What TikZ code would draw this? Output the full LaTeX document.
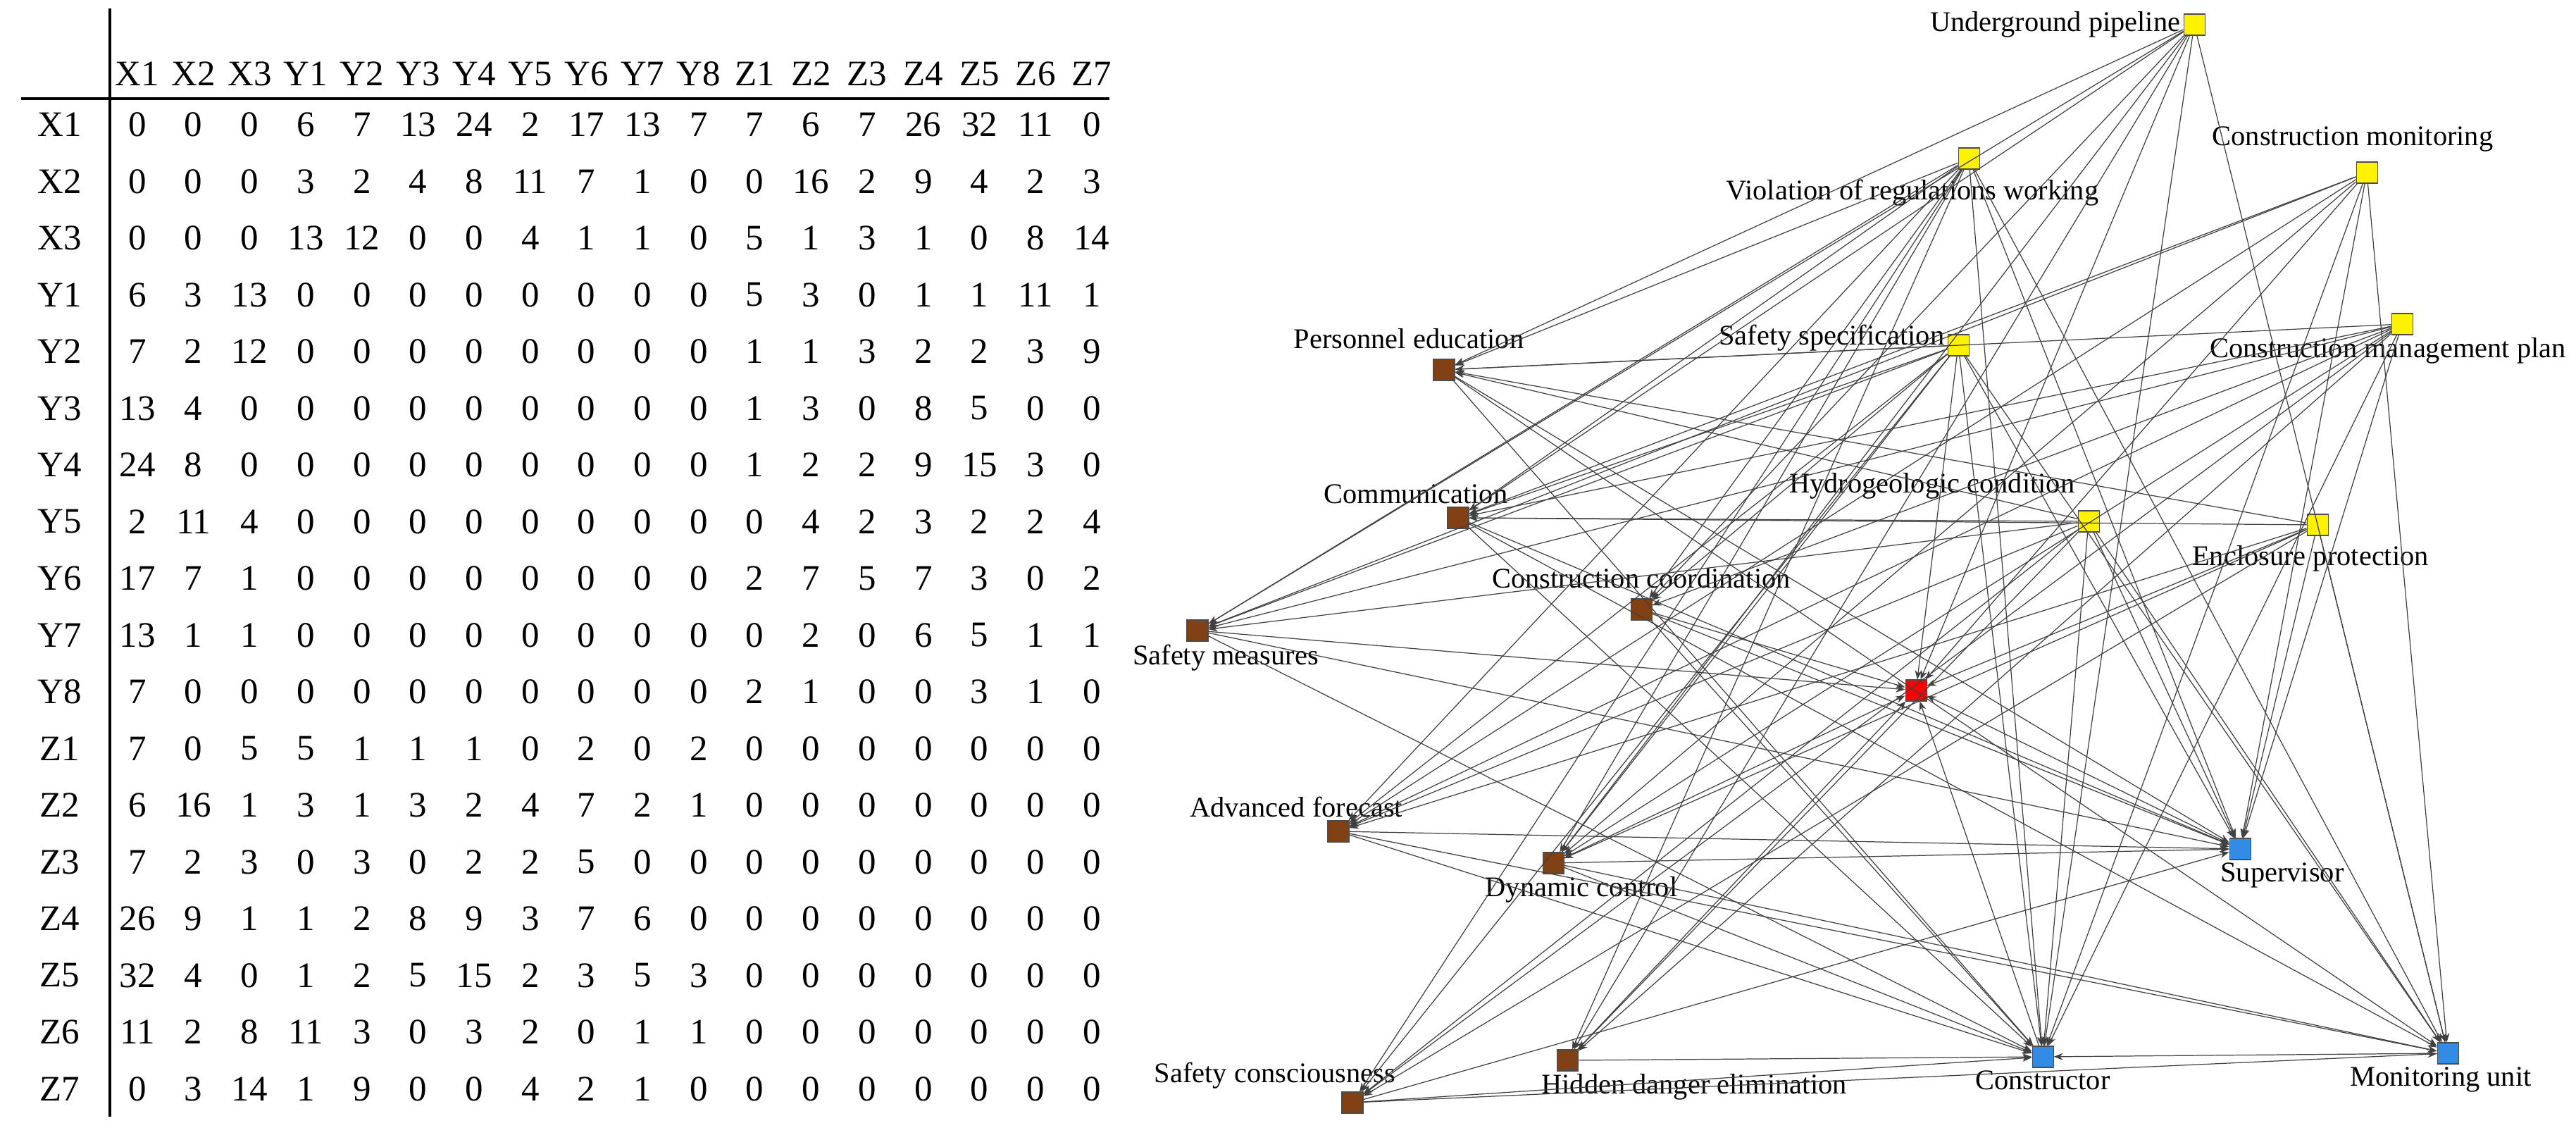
\documentclass[tikz,border=0pt]{standalone}
\usepackage{fontspec}
\setmainfont{Liberation Serif}
\usetikzlibrary{arrows.meta,positioning}
\definecolor{nodebrown}{RGB}{130,65,20}
\definecolor{nodeblue}{RGB}{50,140,230}
\tikzset{
  sq/.style={draw=black!70, minimum size=0.3cm, inner sep=0pt, line width=0.3pt},
  zn/.style={sq, fill=yellow},
  yn/.style={sq, fill=nodebrown},
  xn/.style={sq, fill=nodeblue},
  rn/.style={sq, fill=red},
  edge/.style={black!75, line width=0.35pt, -{Stealth[length=1.3mm,width=1mm]}},
  cell/.style={font=\fontsize{14.5}{17}\selectfont, inner sep=0pt},
  lab/.style={font=\fontsize{11.5}{13}\selectfont, inner sep=1pt}
}
\begin{document}
\begin{tikzpicture}[x=1cm,y=1cm]
\useasboundingbox (0,0) rectangle (36.57,16.28);

% matrix table
\draw[line width=0.9pt] (1.56,16.16) -- (1.56,0.43);
\draw[line width=0.9pt] (0.3,14.88) -- (15.75,14.88);
\foreach \h [count=\c from 0] in {X1,X2,X3,Y1,Y2,Y3,Y4,Y5,Y6,Y7,Y8,Z1,Z2,Z3,Z4,Z5,Z6,Z7}
  \node[cell] (h\c) at (1.95+\c*0.797,15.23) {\h};
\foreach \r/\vals [count=\i from 0] in {
  X1/{0,0,0,6,7,13,24,2,17,13,7,7,6,7,26,32,11,0},
  X2/{0,0,0,3,2,4,8,11,7,1,0,0,16,2,9,4,2,3},
  X3/{0,0,0,13,12,0,0,4,1,1,0,5,1,3,1,0,8,14},
  Y1/{6,3,13,0,0,0,0,0,0,0,0,5,3,0,1,1,11,1},
  Y2/{7,2,12,0,0,0,0,0,0,0,0,1,1,3,2,2,3,9},
  Y3/{13,4,0,0,0,0,0,0,0,0,0,1,3,0,8,5,0,0},
  Y4/{24,8,0,0,0,0,0,0,0,0,0,1,2,2,9,15,3,0},
  Y5/{2,11,4,0,0,0,0,0,0,0,0,0,4,2,3,2,2,4},
  Y6/{17,7,1,0,0,0,0,0,0,0,0,2,7,5,7,3,0,2},
  Y7/{13,1,1,0,0,0,0,0,0,0,0,0,2,0,6,5,1,1},
  Y8/{7,0,0,0,0,0,0,0,0,0,0,2,1,0,0,3,1,0},
  Z1/{7,0,5,5,1,1,1,0,2,0,2,0,0,0,0,0,0,0},
  Z2/{6,16,1,3,1,3,2,4,7,2,1,0,0,0,0,0,0,0},
  Z3/{7,2,3,0,3,0,2,2,5,0,0,0,0,0,0,0,0,0},
  Z4/{26,9,1,1,2,8,9,3,7,6,0,0,0,0,0,0,0,0},
  Z5/{32,4,0,1,2,5,15,2,3,5,3,0,0,0,0,0,0,0},
  Z6/{11,2,8,11,3,0,3,2,0,1,1,0,0,0,0,0,0,0},
  Z7/{0,3,14,1,9,0,0,4,2,1,0,0,0,0,0,0,0,0}} {
  \node[cell] (r\i) at (0.85,14.51-\i*0.805) {\r};
  \foreach \v [count=\c from 0] in \vals
    \node[cell] (c\i-\c) at (1.95+\c*0.797,14.51-\i*0.805) {\v};
}

% network: Z nodes
\node[zn, label={[lab]left:Underground pipeline}] (z1) at (31.15,15.93) {};
\node[zn, label={[lab,xshift=-8mm,yshift=-1mm]below:Violation of regulations working}] (z2) at (27.95,14.03) {};
\node[zn, label={[lab,xshift=-2mm,yshift=1mm]above:Construction monitoring}] (z3) at (33.6,13.83) {};
\node[zn, label={[lab,yshift=1mm]left:Safety specification}] (z4) at (27.8,11.38) {};
\node[zn, label={[lab,xshift=-2mm]below:Construction management plan}] (z5) at (34.1,11.68) {};
\node[zn, label={[lab,yshift=5mm]left:Hydrogeologic condition}] (z6) at (29.65,8.88) {};
\node[zn, label={[lab,xshift=-1mm,yshift=-1mm]below:Enclosure protection}] (z7) at (32.9,8.83) {};
% Y nodes
\node[yn, label={[lab,xshift=-5mm,yshift=1mm]above:Personnel education}] (y1) at (20.5,11.03) {};
\node[yn, label={[lab,xshift=-6mm]above:Communication}] (y2) at (20.7,8.93) {};
\node[yn, label={[lab,yshift=1mm]above:Construction coordination}] (y3) at (23.3,7.63) {};
\node[yn, label={[lab,xshift=4mm]below:Safety measures}] (y4) at (17.0,7.33) {};
\node[yn, label={[lab,xshift=-6mm]above:Advanced forecast}] (y5) at (19.0,4.48) {};
\node[yn, label={[lab,xshift=4mm]below:Dynamic control}] (y6) at (22.05,4.03) {};
\node[yn, label={[lab,xshift=-11mm]above:Safety consciousness}] (y7) at (19.2,0.63) {};
\node[yn, label={[lab,xshift=18mm]below:Hidden danger elimination}] (y8) at (22.25,1.23) {};
% red node
\node[rn] (r0) at (27.2,6.48) {};
% X nodes
\node[xn, label={[lab]below:Constructor}] (x1) at (29.0,1.28) {};
\node[xn, label={[lab,xshift=6mm]below:Supervisor}] (x2) at (31.8,4.23) {};
\node[xn, label={[lab,xshift=-1mm]below:Monitoring unit}] (x3) at (34.75,1.33) {};

% connectors
\foreach \a/\b in {y1/x1,y2/x1,y3/x1,y4/x1,y5/x1,y6/x1,y7/x1,y8/x1,
  z1/x1,z2/x1,z3/x1,z4/x1,z5/x1,z6/x1,
  y1/x2,y2/x2,y3/x2,y4/x2,y5/x2,y6/x2,y7/x2,
  z2/x2,z3/x2,z4/x2,z5/x2,z6/x2,z7/x2,
  y1/x3,y2/x3,y5/x3,y6/x3,y7/x3,
  z1/x3,z2/x3,z3/x3,z4/x3,z6/x3,z7/x3,
  z1/y1,z2/y1,z4/y1,z5/y1,z6/y1,z7/y1,
  z1/y2,z2/y2,z3/y2,z4/y2,z5/y2,z6/y2,z7/y2,
  z1/y3,z2/y3,z4/y3,z5/y3,
  z1/y4,z2/y4,z3/y4,z4/y4,z5/y4,z6/y4,
  z2/y5,z3/y5,z4/y5,z5/y5,z6/y5,z7/y5,
  z1/y6,z2/y6,z3/y6,z4/y6,z5/y6,z7/y6,
  z2/y7,z4/y7,z5/y7,z6/y7,z7/y7,
  z1/y8,z2/y8,z5/y8,z6/y8,
  y3/r0,y4/r0,y6/r0,y8/r0,x1/r0,x2/r0,z1/r0,z3/r0,z4/r0,z7/r0,x3/x1}
  \draw[edge] (\a) -- (\b);
\end{tikzpicture}
\end{document}
